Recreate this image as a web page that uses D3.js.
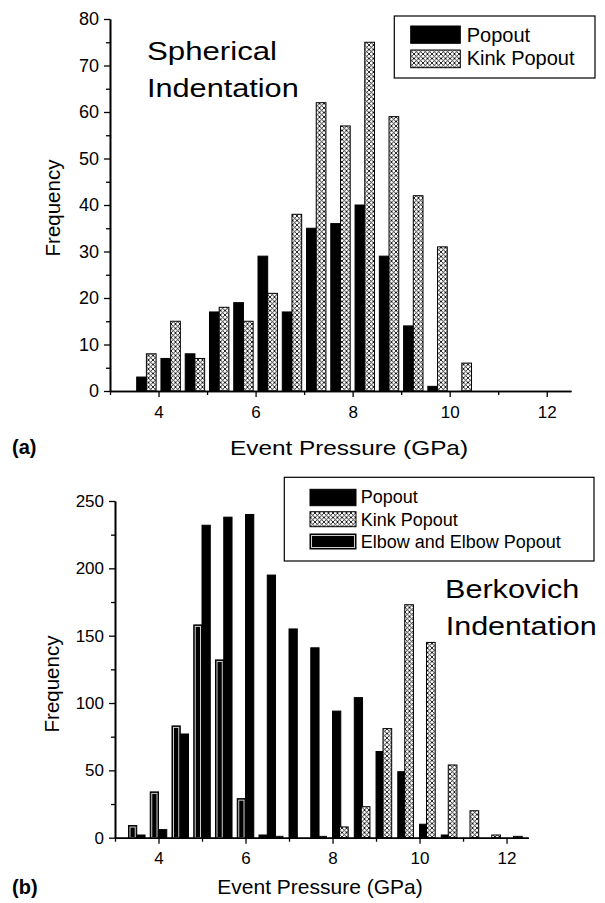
<!DOCTYPE html>
<html lang="en">
<head>
<meta charset="UTF-8">
<title>Event Pressure Histograms</title>
<style>
  body { margin: 0; background: #fff; }
  svg text { font-family: "Liberation Sans", Arial, sans-serif; fill: #000; }
  .domain { stroke-width: 1.6px; }
  .tick line { stroke-width: 1.3px; }
</style>
</head>
<body>
<div id="chart"></div>
<script src="https://cdn.jsdelivr.net/npm/d3@7/dist/d3.min.js"></script>
<script>
  // (a) spherical indentation - x is the bin centre (GPa)
  const sphBins   = [3.75, 4.25, 4.75, 5.25, 5.75, 6.25, 6.75, 7.25, 7.75, 8.25, 8.75, 9.25, 9.75, 10.25];
  const sphPopout = [3, 7, 8, 17, 19, 29, 17, 35, 36, 40, 29, 14, 1, 0];
  const sphKink   = [8, 15, 7, 18, 15, 21, 38, 62, 57, 75, 59, 42, 31, 6];

  // (b) Berkovich indentation - x is the bin start (GPa)
  const berBins   = [3.5, 4.0, 4.5, 5.0, 5.5, 6.0, 6.5, 7.0, 7.5, 8.0, 8.5, 9.0, 9.5, 10.0, 10.5, 11.0, 11.5, 12.0];
  const berPopout = [2, 6, 77, 232, 238, 240, 195, 155, 141, 94, 104, 64, 49, 10, 2, 0, 0, 0];
  const berKink   = [0, 0, 0, 0, 0, 0, 1, 0, 1, 8, 23, 81, 173, 145, 54, 20, 2, 1];
  const berElbow  = [9, 34, 83, 158, 132, 29, 2, 0, 0, 0, 0, 0, 0, 0, 0, 0, 0, 0];

  const xTicks = [4, 6, 8, 10, 12];
  const xMinor = [3, 5, 7, 9, 11];
  const sphYTicks = [0, 10, 20, 30, 40, 50, 60, 70, 80];
  const sphYMinor = [5, 15, 25, 35, 45, 55, 65, 75];
  const berYTicks = [0, 50, 100, 150, 200, 250];
  const berYMinor = [25, 75, 125, 175, 225];

  const width = 605, height = 903;

  const svg = d3.select("#chart")
    .append("svg")
    .attr("width", width)
    .attr("height", height);

  // crosshatch used by the Kink Popout bars
  const defs = svg.append("defs");
  const pat = defs.append("pattern")
    .attr("id", "hatch")
    .attr("patternUnits", "userSpaceOnUse")
    .attr("width", 4.5)
    .attr("height", 4.5);
  pat.append("rect").attr("width", 4.5).attr("height", 4.5).attr("fill", "#fff");
  pat.append("path")
    .attr("d", "M0,0L4.5,4.5M4.5,0L0,4.5")
    .attr("stroke", "#000")
    .attr("stroke-width", 0.85);

  // text helper, optional forced length
  function label(x, y, txt, size, opt = {}) {
    const t = svg.append("text")
      .attr("x", x)
      .attr("y", y)
      .style("font-size", size + "px")
      .text(txt);
    if (opt.anchor) t.attr("text-anchor", opt.anchor);
    if (opt.bold) t.style("font-weight", "bold");
    if (opt.len) t.attr("textLength", opt.len).attr("lengthAdjust", "spacingAndGlyphs");
    if (opt.rotate) t.attr("transform", `rotate(-90,${x},${y})`);
    return t;
  }

  function drawAxes(x, y, p) {
    const base = y(0);
    svg.append("g")
      .attr("transform", `translate(0,${base})`)
      .call(d3.axisBottom(x).tickValues(xMinor).tickFormat("").tickSize(4).tickSizeOuter(0));
    const xa = svg.append("g")
      .attr("transform", `translate(0,${base})`)
      .call(d3.axisBottom(x).tickValues(xTicks).tickFormat(d3.format("d"))
        .tickSize(6).tickSizeOuter(0).tickPadding(p.xPad));
    xa.selectAll("text").style("font-size", p.tickFont + "px");

    const left = x.range()[0];
    svg.append("g")
      .attr("transform", `translate(${left},0)`)
      .call(d3.axisLeft(y).tickValues(p.yMinor).tickFormat("").tickSize(4).tickSizeOuter(0));
    const ya = svg.append("g")
      .attr("transform", `translate(${left},0)`)
      .call(d3.axisLeft(y).tickValues(p.yTicks).tickFormat(d3.format("d"))
        .tickSize(6).tickSizeOuter(0).tickPadding(p.yPad));
    ya.selectAll("text").style("font-size", p.yFont + "px");
  }

  function drawBars(x, y, bins, vals, off0, off1, cls) {
    const data = bins.map((b, i) => ({ b, v: vals[i] })).filter(d => d.v > 0);
    const g = svg.append("g").attr("class", cls);
    g.selectAll("rect")
      .data(data)
      .join("rect")
      .attr("x", d => x(d.b + off0))
      .attr("width", d => x(d.b + off1) - x(d.b + off0))
      .attr("y", d => y(d.v))
      .attr("height", d => y(0) - y(d.v))
      .attr("fill", cls === "kink" ? "url(#hatch)" : "#000")
      .attr("stroke", "#000")
      .attr("stroke-width", 1);
    if (cls === "elbow") {
      // light inner outline of the elbow bars
      g.selectAll("rect.inner")
        .data(data.filter(d => y(0) - y(d.v) > 3))
        .join("rect")
        .attr("class", "inner")
        .attr("x", d => x(d.b + off0) + 1.5)
        .attr("width", d => x(d.b + off1) - x(d.b + off0) - 3)
        .attr("y", d => y(d.v) + 1.5)
        .attr("height", d => y(0) - y(d.v) - 1.5)
        .attr("fill", "none")
        .attr("stroke", "#cfcfcf")
        .attr("stroke-width", 1);
    }
  }

  function swatch(x0, y0, w, h, kind) {
    svg.append("rect")
      .attr("x", x0).attr("y", y0).attr("width", w).attr("height", h)
      .attr("fill", kind === "kink" ? "url(#hatch)" : "#000")
      .attr("stroke", "#000").attr("stroke-width", 1);
    if (kind === "elbow") {
      svg.append("rect")
        .attr("x", x0 + 1.5).attr("y", y0 + 1.5).attr("width", w - 3).attr("height", h - 3)
        .attr("fill", "none").attr("stroke", "#cfcfcf").attr("stroke-width", 1);
    }
  }

  // ---------- panel (a) ----------
  const xA = d3.scaleLinear().domain([3, 12.5]).range([110, 571]);
  const yA = d3.scaleLinear().domain([0, 80]).range([391, 19]);

  drawBars(xA, yA, sphBins, sphPopout, -0.2, 0, "popout");
  drawBars(xA, yA, sphBins, sphKink, 0, 0.2, "kink");
  drawAxes(xA, yA, { xPad: 9, tickFont: 17, yTicks: sphYTicks, yMinor: sphYMinor, yPad: 5, yFont: 18 });

  label(60, 208, "Frequency", 20.5, { anchor: "middle", rotate: true });
  label(349, 455, "Event Pressure (GPa)", 21, { anchor: "middle", len: 238 });
  label(12, 454, "(a)", 20, { bold: true });
  label(147, 60, "Spherical", 25, { len: 130 });
  label(147, 97, "Indentation", 25, { len: 151.7 });

  // legend (a)
  svg.append("rect")
    .attr("x", 394.3).attr("y", 16).attr("width", 200.7).attr("height", 62)
    .attr("fill", "#fff").attr("stroke", "#000").attr("stroke-width", 1.2);
  swatch(410.7, 26, 49.6, 17.3, "popout");
  swatch(410.7, 50, 49.6, 17.7, "kink");
  label(466.7, 41.7, "Popout", 20);
  label(466.7, 65.3, "Kink Popout", 20);

  // ---------- panel (b) ----------
  const xB = d3.scaleLinear().domain([3, 12.5]).range([115, 528.3]);
  const yB = d3.scaleLinear().domain([0, 250]).range([837.7, 501]);

  drawBars(xB, yB, berBins, berElbow, -0.19, 0, "elbow");
  drawBars(xB, yB, berBins, berPopout, 0, 0.19, "popout");
  drawBars(xB, yB, berBins, berKink, 0.16, 0.36, "kink");
  drawAxes(xB, yB, { xPad: 8, tickFont: 17, yTicks: berYTicks, yMinor: berYMinor, yPad: 5, yFont: 17 });

  label(59, 684, "Frequency", 20.5, { anchor: "middle", rotate: true });
  label(320, 894, "Event Pressure (GPa)", 21, { anchor: "middle" });
  label(12, 894, "(b)", 20, { bold: true });
  label(445, 598, "Berkovich", 26, { len: 134.3 });
  label(445.7, 635, "Indentation", 26, { len: 151 });

  // legend (b)
  svg.append("rect")
    .attr("x", 284.3).attr("y", 477.3).attr("width", 309.7).attr("height", 83.7)
    .attr("fill", "#fff").attr("stroke", "#000").attr("stroke-width", 1.2);
  swatch(310, 489.3, 46, 16.4, "popout");
  swatch(310, 511.7, 46, 15, "kink");
  swatch(310, 534, 46, 15, "elbow");
  label(360.7, 503, "Popout", 18);
  label(360.7, 526, "Kink Popout", 18);
  label(360.7, 547.5, "Elbow and Elbow Popout", 18);
</script>
</body>
</html>
